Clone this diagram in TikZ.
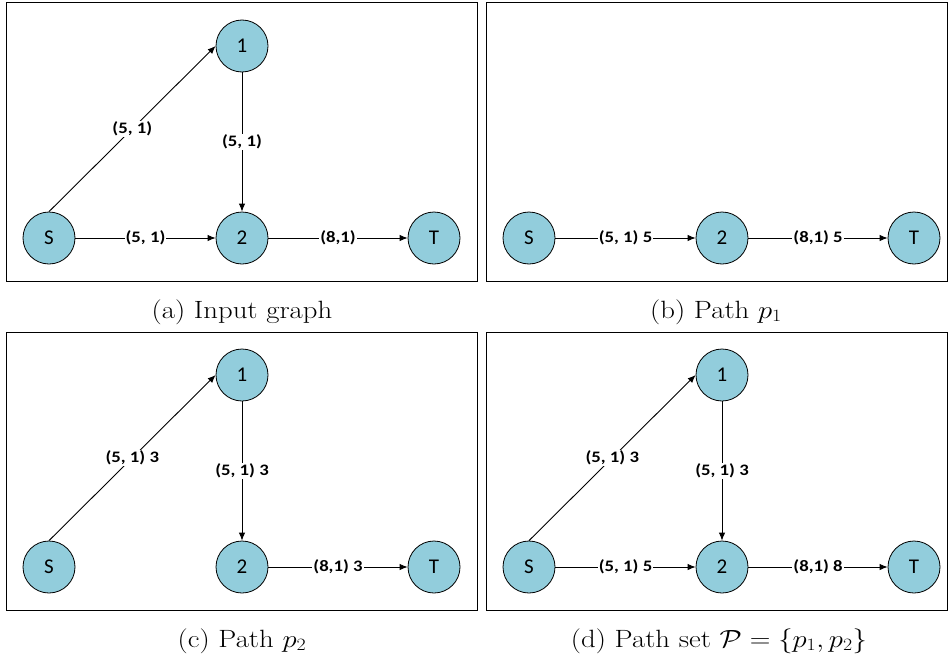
\documentclass[tikz,border=0pt]{standalone}
\usepackage{fontspec}
\usepackage{graphicx}
\newfontfamily\calib[FakeStretch=1.17]{Carlito}
\newfontfamily\calibn{Carlito}
\usetikzlibrary{arrows.meta}
\definecolor{nodeblue}{RGB}{146,205,220}
\newcommand{\captxt}[1]{\scalebox{1.15}[1]{#1}}
\begin{document}
\begin{tikzpicture}[x=1pt,y=-1pt,
  vtx/.style={circle,draw=black,line width=0.8pt,fill=nodeblue,minimum size=52pt,inner sep=0pt,font=\calibn\fontsize{21}{25}\selectfont},
  edge/.style={-{Latex[length=8pt,width=6.5pt]},line width=0.9pt},
  lab/.style={fill=white,inner sep=1pt,font=\calib\bfseries\fontsize{16}{19}\selectfont},
  panel/.style={draw=black,line width=1pt},
  captext/.style={anchor=base,font=\fontsize{25}{29}\selectfont}]
\useasboundingbox (0,0) rectangle (949,661);
% panel (a)
\draw[panel] (6,3) rectangle (477,281);
\node[vtx] (aS) at (49,238) {S};
\node[vtx] (a1) at (242,46) {1};
\node[vtx] (a2) at (242,238) {2};
\node[vtx] (aT) at (434,238) {T};
\draw[edge] (aS.north) -- node[lab] {(5, 1)} (a1.west);
\draw[edge] (a1.south) -- node[lab] {(5, 1)} (a2.north);
\draw[edge] (aS.east) -- node[lab] {(5, 1)} (a2.west);
\draw[edge] (a2.east) -- node[lab] {(8,1)} (aT.west);
\node[captext] (capa) at (242,318) {\captxt{(a) Input graph}};
% panel (b)
\draw[panel] (486,3) rectangle (947,281);
\node[vtx] (bS) at (529,238) {S};
\node[vtx] (b2) at (722,238) {2};
\node[vtx] (bT) at (914,238) {T};
\draw[edge] (bS.east) -- node[lab] {(5, 1) 5} (b2.west);
\draw[edge] (b2.east) -- node[lab] {(8,1) 5} (bT.west);
\node[captext] (capb) at (716,318) {\captxt{(b) Path $p_1$}};
% panel (c)
\draw[panel] (6,332) rectangle (477,610);
\node[vtx] (cS) at (49,567) {S};
\node[vtx] (c1) at (242,375) {1};
\node[vtx] (c2) at (242,567) {2};
\node[vtx] (cT) at (434,567) {T};
\draw[edge] (cS.north) -- node[lab] {(5, 1) 3} (c1.west);
\draw[edge] (c1.south) -- node[lab] {(5, 1) 3} (c2.north);
\draw[edge] (c2.east) -- node[lab] {(8,1) 3} (cT.west);
\node[captext] (capc) at (242,647) {\captxt{(c) Path $p_2$}};
% panel (d)
\draw[panel] (486,332) rectangle (947,610);
\node[vtx] (dS) at (529,567) {S};
\node[vtx] (d1) at (722,375) {1};
\node[vtx] (d2) at (722,567) {2};
\node[vtx] (dT) at (914,567) {T};
\draw[edge] (dS.north) -- node[lab] {(5, 1) 3} (d1.west);
\draw[edge] (d1.south) -- node[lab] {(5, 1) 3} (d2.north);
\draw[edge] (dS.east) -- node[lab] {(5, 1) 5} (d2.west);
\draw[edge] (d2.east) -- node[lab] {(8,1) 8} (dT.west);
\node[captext] (capd) at (719,647) {\captxt{(d) Path set $\mathcal{P} = \{p_1, p_2\}$}};
\end{tikzpicture}
\end{document}
